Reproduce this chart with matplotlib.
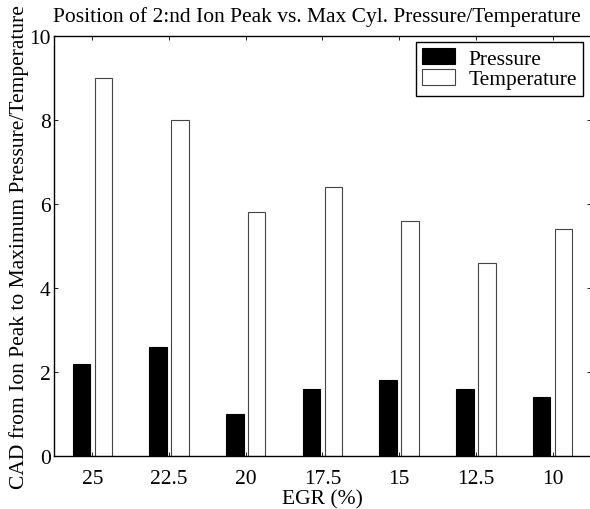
import numpy as np
import matplotlib.pyplot as plt

plt.rcParams['font.family'] = ['Liberation Serif', 'DejaVu Serif']

egr_labels = ['25', '22.5', '20', '17.5', '15', '12.5', '10']
pressure = [2.2, 2.6, 1.0, 1.6, 1.8, 1.6, 1.4]
temperature = [9.0, 8.0, 5.8, 6.4, 5.6, 4.6, 5.4]

x = np.arange(1, len(egr_labels) + 1)
w = 0.229
off = 0.143
fs = 15.5

fig = plt.figure(figsize=(5.9, 5.1), dpi=100)
ax = fig.add_axes([0.0915, 0.1039, 0.910, 0.8235])

ax.bar(x - off, pressure, w, color='black', edgecolor='black', linewidth=0.8, label='Pressure')
ax.bar(x + off, temperature, w, color='white', edgecolor='#444444', linewidth=0.8, label='Temperature')

ax.set_xlim(0.5, 7.5)
ax.set_ylim(0, 10)
ax.set_xticks(x)
ax.set_xticklabels(egr_labels)
ax.set_yticks([0, 2, 4, 6, 8, 10])
ax.tick_params(direction='in', top=True, right=True, length=3, width=0.6,
               labelsize=fs)
ax.tick_params(axis='x', pad=9)
ax.tick_params(axis='y', pad=2.5)
for s in ax.spines.values():
    s.set_linewidth(1.0)

ax.set_title('Position of 2:nd Ion Peak vs. Max Cyl. Pressure/Temperature',
             fontsize=fs, pad=11, x=0.49)
ax.set_xlabel('EGR (%)', fontsize=fs, labelpad=1)
ax.set_ylabel('CAD from Ion Peak to Maximum Pressure/Temperature', fontsize=fs, labelpad=0)

leg = ax.legend(loc='upper right', fontsize=fs, fancybox=False, framealpha=1,
                edgecolor='black', bbox_to_anchor=(0.986, 0.986),
                borderaxespad=0, handlelength=1.55, handleheight=0.75,
                handletextpad=0.6, borderpad=0.3, labelspacing=0.0)
leg.get_frame().set_linewidth(1.0)

fig.savefig('out.png', dpi=100)
